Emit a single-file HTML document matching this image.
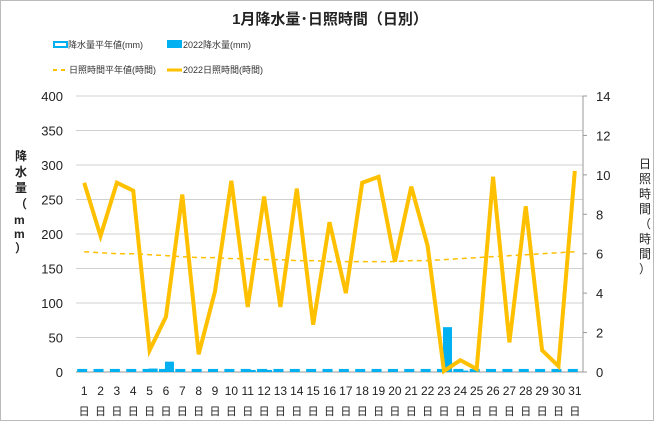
<!DOCTYPE html>
<html><head><meta charset="utf-8"><style>
body{margin:0;background:#fff;font-family:"Liberation Sans","Noto Sans CJK JP",sans-serif}
svg text{font-family:"Liberation Sans","Noto Sans CJK JP",sans-serif}
</style></head><body>
<svg id="c" width="660" height="421" viewBox="0 0 660 421" xmlns="http://www.w3.org/2000/svg">
<rect x="0.5" y="0.5" width="653" height="420" fill="#fff" stroke="#bbb"/>
<text x="330" y="24" text-anchor="middle" font-size="15" font-weight="bold" fill="#222">1月降水量･日照時間（日別）</text>
<g font-size="9" fill="#333">
<g><rect x="54" y="42" width="13" height="5" fill="#fff" stroke="#00b0f0" stroke-width="2"/><text x="68" y="48">降水量平年値(mm)</text></g>
<g><rect x="167" y="40" width="15" height="8" fill="#00b0f0"/><text x="183" y="48">2022降水量(mm)</text></g>
<g><line x1="53" y1="70" x2="68" y2="70" stroke="#ffc000" stroke-width="2" stroke-dasharray="4,4"/><text x="69" y="73">日照時間平年値(時間)</text></g>
<g><line x1="167" y1="70" x2="182" y2="70" stroke="#ffc000" stroke-width="3"/><text x="183" y="73">2022日照時間(時間)</text></g>
</g>
<text transform="translate(15,160)" font-size="12" font-weight="bold" fill="#222"><tspan x="0" dy="0">降</tspan><tspan x="0" dy="16">水</tspan><tspan x="0" dy="16">量</tspan><tspan x="0" dy="16">（</tspan><tspan x="-1" dy="16">m</tspan><tspan x="-1" dy="14">m</tspan><tspan x="0" dy="14">）</tspan></text>
<text transform="translate(639,168)" font-size="12" fill="#222"><tspan x="0" dy="0">日</tspan><tspan x="0" dy="15">照</tspan><tspan x="0" dy="15">時</tspan><tspan x="0" dy="15">間</tspan><tspan x="0" dy="15">（</tspan><tspan x="0" dy="15">時</tspan><tspan x="0" dy="15">間</tspan><tspan x="0" dy="15">）</tspan></text>
<g id="grid"></g><g id="bars"></g><g id="lines"></g><g id="axes"></g>
</svg>
<script>
const days=[1,2,3,4,5,6,7,8,9,10,11,12,13,14,15,16,17,18,19,20,21,22,23,24,25,26,27,28,29,30,31];
const rainNormal=[3,3,3,3,3,3,3,3,3,3,3,3,3,3,3,3,3,3,3,3,3,3,3,3,3,3,3,3,3,3,3];
const rain2022=[0,0,0,0,5,15,0,0,0,0,3,3,0,0,0,0,0,0,0,0,0,0,65,2,0,0,0,0,0,0,0];
const sunNormal=[6.1,6.05,6.0,6.0,5.95,5.9,5.85,5.8,5.8,5.75,5.75,5.7,5.7,5.65,5.65,5.6,5.6,5.6,5.6,5.6,5.65,5.65,5.7,5.75,5.8,5.85,5.9,5.95,6.0,6.05,6.1];
const sun2022=[9.6,6.9,9.6,9.2,1.1,2.8,9.0,0.9,4.1,9.7,3.3,8.9,3.3,9.3,2.4,7.6,4.0,9.6,9.9,5.6,9.4,6.4,0.05,0.6,0.15,9.9,1.5,8.4,1.1,0.3,10.2];
const leftTicks=[0,50,100,150,200,250,300,350,400];
const rightTicks=[0,2,4,6,8,10,12,14];
const X0=76,X1=583,YT=96,YB=372,NS="http://www.w3.org/2000/svg";
const bw=(X1-X0)/days.length;
const xc=i=>X0+bw*(i+0.5);
const yL=v=>YB-(v/400)*(YB-YT);
const yR=v=>YB-(v/14)*(YB-YT);
function mk(p,t,a){const e=document.createElementNS(NS,t);for(const k in a)e.setAttribute(k,a[k]);p.appendChild(e);return e;}
const G=document.getElementById('grid'),B=document.getElementById('bars'),L=document.getElementById('lines'),A=document.getElementById('axes');
leftTicks.forEach(v=>{
 const l=mk(G,'line',{x1:X0,x2:X1,y1:yL(v),y2:yL(v),stroke:v===0?'#999':'#d0d0d0','stroke-width':1});
 
 
 const t=mk(A,'text',{x:X0-13,y:yL(v)+5,'text-anchor':'end','font-size':13,fill:'#222'});t.textContent=v;
 
 
});
mk(A,'line',{x1:X1,x2:X1,y1:YT,y2:YB,stroke:'#999'});
rightTicks.forEach(v=>{
 mk(A,'line',{x1:X1,x2:X1+4,y1:yR(v),y2:yR(v),stroke:'#999'});
 const t=mk(A,'text',{x:X1+13,y:yR(v)+5,'font-size':13,fill:'#222'});t.textContent=v;
 
 
});
days.forEach((d,i)=>{
 const t=mk(A,'text',{x:xc(i),y:395,'text-anchor':'middle','font-size':12,fill:'#222'});t.textContent=d;
 
 
 const t2=mk(A,'text',{x:xc(i),y:415,'text-anchor':'middle','font-size':11,fill:'#222'});t2.textContent='日';
 
 
 const r2=mk(B,'rect',{x:xc(i)-1,y:yL(rain2022[i]),width:9,height:YB-yL(rain2022[i]),fill:'#00b0f0'});
 
 
 const r1=mk(B,'rect',{x:xc(i)-7,y:yL(rainNormal[i])-1,width:10,height:YB-yL(rainNormal[i])+1,fill:'#00b0f0'});
 
 
});
const p1=mk(L,'polyline',{points:sunNormal.map((v,i)=>xc(i)+','+yR(v)).join(' '),fill:'none',stroke:'#ffc000','stroke-width':1.5,'stroke-dasharray':'5,4'});


const p2=mk(L,'polyline',{points:sun2022.map((v,i)=>xc(i)+','+yR(v)).join(' '),fill:'none',stroke:'#ffc000','stroke-width':4,'stroke-linejoin':'miter'});


</script>
</body></html>
